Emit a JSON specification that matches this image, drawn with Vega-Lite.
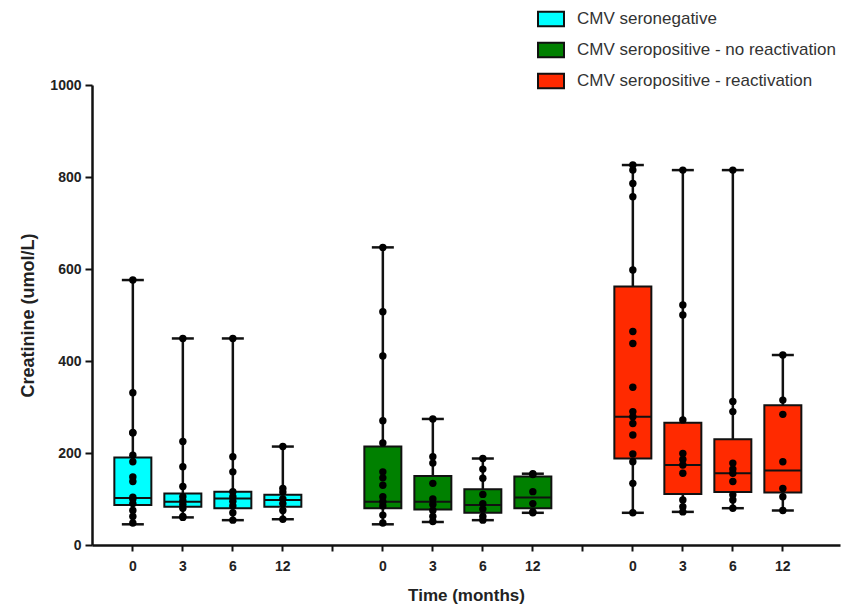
{
  "$schema": "https://vega.github.io/schema/vega-lite/v6.json",
  "width": 748,
  "height": 460,
  "autosize": {"type": "none"},
  "padding": {"left": 92, "top": 85, "right": 8, "bottom": 64},
  "config": {"view": {"stroke": null}, "font": "Liberation Sans"},
  "datasets": {
    "boxes": [
      {"group": "CMV seronegative", "time": "0", "min": 45, "q1": 87, "median": 102, "q3": 190, "max": 576},
      {"group": "CMV seronegative", "time": "3", "min": 60, "q1": 83, "median": 94, "q3": 112, "max": 449},
      {"group": "CMV seronegative", "time": "6", "min": 54, "q1": 80, "median": 101, "q3": 116, "max": 449},
      {"group": "CMV seronegative", "time": "12", "min": 56, "q1": 83, "median": 98, "q3": 109, "max": 214},
      {"group": "CMV seropositive - no reactivation", "time": "0", "min": 45, "q1": 80, "median": 94, "q3": 214, "max": 647},
      {"group": "CMV seropositive - no reactivation", "time": "3", "min": 50, "q1": 77, "median": 94, "q3": 150, "max": 274},
      {"group": "CMV seropositive - no reactivation", "time": "6", "min": 54, "q1": 70, "median": 87, "q3": 121, "max": 188},
      {"group": "CMV seropositive - no reactivation", "time": "12", "min": 70, "q1": 80, "median": 103, "q3": 149, "max": 155},
      {"group": "CMV seropositive - reactivation", "time": "0", "min": 70, "q1": 188, "median": 279, "q3": 562, "max": 826},
      {"group": "CMV seropositive - reactivation", "time": "3", "min": 72, "q1": 111, "median": 174, "q3": 266, "max": 815},
      {"group": "CMV seropositive - reactivation", "time": "6", "min": 80, "q1": 115, "median": 156, "q3": 230, "max": 815},
      {"group": "CMV seropositive - reactivation", "time": "12", "min": 75, "q1": 114, "median": 162, "q3": 304, "max": 413}
    ],
    "points": [
      {"group": "CMV seronegative", "time": "0", "value": 576},
      {"group": "CMV seronegative", "time": "0", "value": 331},
      {"group": "CMV seronegative", "time": "0", "value": 244},
      {"group": "CMV seronegative", "time": "0", "value": 244},
      {"group": "CMV seronegative", "time": "0", "value": 195},
      {"group": "CMV seronegative", "time": "0", "value": 181},
      {"group": "CMV seronegative", "time": "0", "value": 148},
      {"group": "CMV seronegative", "time": "0", "value": 138},
      {"group": "CMV seronegative", "time": "0", "value": 104},
      {"group": "CMV seronegative", "time": "0", "value": 100},
      {"group": "CMV seronegative", "time": "0", "value": 90},
      {"group": "CMV seronegative", "time": "0", "value": 75},
      {"group": "CMV seronegative", "time": "0", "value": 62},
      {"group": "CMV seronegative", "time": "0", "value": 48},
      {"group": "CMV seronegative", "time": "3", "value": 449},
      {"group": "CMV seronegative", "time": "3", "value": 225},
      {"group": "CMV seronegative", "time": "3", "value": 170},
      {"group": "CMV seronegative", "time": "3", "value": 127},
      {"group": "CMV seronegative", "time": "3", "value": 105},
      {"group": "CMV seronegative", "time": "3", "value": 96},
      {"group": "CMV seronegative", "time": "3", "value": 88},
      {"group": "CMV seronegative", "time": "3", "value": 80},
      {"group": "CMV seronegative", "time": "3", "value": 62},
      {"group": "CMV seronegative", "time": "3", "value": 60},
      {"group": "CMV seronegative", "time": "6", "value": 449},
      {"group": "CMV seronegative", "time": "6", "value": 192},
      {"group": "CMV seronegative", "time": "6", "value": 159},
      {"group": "CMV seronegative", "time": "6", "value": 116},
      {"group": "CMV seronegative", "time": "6", "value": 105},
      {"group": "CMV seronegative", "time": "6", "value": 95},
      {"group": "CMV seronegative", "time": "6", "value": 85},
      {"group": "CMV seronegative", "time": "6", "value": 70},
      {"group": "CMV seronegative", "time": "6", "value": 54},
      {"group": "CMV seronegative", "time": "12", "value": 214},
      {"group": "CMV seronegative", "time": "12", "value": 123},
      {"group": "CMV seronegative", "time": "12", "value": 115},
      {"group": "CMV seronegative", "time": "12", "value": 100},
      {"group": "CMV seronegative", "time": "12", "value": 90},
      {"group": "CMV seronegative", "time": "12", "value": 75},
      {"group": "CMV seronegative", "time": "12", "value": 56},
      {"group": "CMV seropositive - no reactivation", "time": "0", "value": 647},
      {"group": "CMV seropositive - no reactivation", "time": "0", "value": 507},
      {"group": "CMV seropositive - no reactivation", "time": "0", "value": 411},
      {"group": "CMV seropositive - no reactivation", "time": "0", "value": 270},
      {"group": "CMV seropositive - no reactivation", "time": "0", "value": 222},
      {"group": "CMV seropositive - no reactivation", "time": "0", "value": 159},
      {"group": "CMV seropositive - no reactivation", "time": "0", "value": 146},
      {"group": "CMV seropositive - no reactivation", "time": "0", "value": 130},
      {"group": "CMV seropositive - no reactivation", "time": "0", "value": 105},
      {"group": "CMV seropositive - no reactivation", "time": "0", "value": 94},
      {"group": "CMV seropositive - no reactivation", "time": "0", "value": 85},
      {"group": "CMV seropositive - no reactivation", "time": "0", "value": 65},
      {"group": "CMV seropositive - no reactivation", "time": "0", "value": 48},
      {"group": "CMV seropositive - no reactivation", "time": "3", "value": 274},
      {"group": "CMV seropositive - no reactivation", "time": "3", "value": 192},
      {"group": "CMV seropositive - no reactivation", "time": "3", "value": 178},
      {"group": "CMV seropositive - no reactivation", "time": "3", "value": 134},
      {"group": "CMV seropositive - no reactivation", "time": "3", "value": 100},
      {"group": "CMV seropositive - no reactivation", "time": "3", "value": 88},
      {"group": "CMV seropositive - no reactivation", "time": "3", "value": 75},
      {"group": "CMV seropositive - no reactivation", "time": "3", "value": 62},
      {"group": "CMV seropositive - no reactivation", "time": "3", "value": 51},
      {"group": "CMV seropositive - no reactivation", "time": "6", "value": 188},
      {"group": "CMV seropositive - no reactivation", "time": "6", "value": 165},
      {"group": "CMV seropositive - no reactivation", "time": "6", "value": 145},
      {"group": "CMV seropositive - no reactivation", "time": "6", "value": 110},
      {"group": "CMV seropositive - no reactivation", "time": "6", "value": 90},
      {"group": "CMV seropositive - no reactivation", "time": "6", "value": 78},
      {"group": "CMV seropositive - no reactivation", "time": "6", "value": 62},
      {"group": "CMV seropositive - no reactivation", "time": "6", "value": 54},
      {"group": "CMV seropositive - no reactivation", "time": "12", "value": 155},
      {"group": "CMV seropositive - no reactivation", "time": "12", "value": 153},
      {"group": "CMV seropositive - no reactivation", "time": "12", "value": 116},
      {"group": "CMV seropositive - no reactivation", "time": "12", "value": 90},
      {"group": "CMV seropositive - no reactivation", "time": "12", "value": 72},
      {"group": "CMV seropositive - no reactivation", "time": "12", "value": 70},
      {"group": "CMV seropositive - reactivation", "time": "0", "value": 826},
      {"group": "CMV seropositive - reactivation", "time": "0", "value": 815},
      {"group": "CMV seropositive - reactivation", "time": "0", "value": 786},
      {"group": "CMV seropositive - reactivation", "time": "0", "value": 757},
      {"group": "CMV seropositive - reactivation", "time": "0", "value": 598},
      {"group": "CMV seropositive - reactivation", "time": "0", "value": 464},
      {"group": "CMV seropositive - reactivation", "time": "0", "value": 438},
      {"group": "CMV seropositive - reactivation", "time": "0", "value": 343},
      {"group": "CMV seropositive - reactivation", "time": "0", "value": 290},
      {"group": "CMV seropositive - reactivation", "time": "0", "value": 279},
      {"group": "CMV seropositive - reactivation", "time": "0", "value": 264},
      {"group": "CMV seropositive - reactivation", "time": "0", "value": 239},
      {"group": "CMV seropositive - reactivation", "time": "0", "value": 198},
      {"group": "CMV seropositive - reactivation", "time": "0", "value": 181},
      {"group": "CMV seropositive - reactivation", "time": "0", "value": 134},
      {"group": "CMV seropositive - reactivation", "time": "0", "value": 70},
      {"group": "CMV seropositive - reactivation", "time": "3", "value": 815},
      {"group": "CMV seropositive - reactivation", "time": "3", "value": 522},
      {"group": "CMV seropositive - reactivation", "time": "3", "value": 500},
      {"group": "CMV seropositive - reactivation", "time": "3", "value": 272},
      {"group": "CMV seropositive - reactivation", "time": "3", "value": 199},
      {"group": "CMV seropositive - reactivation", "time": "3", "value": 186},
      {"group": "CMV seropositive - reactivation", "time": "3", "value": 174},
      {"group": "CMV seropositive - reactivation", "time": "3", "value": 156},
      {"group": "CMV seropositive - reactivation", "time": "3", "value": 98},
      {"group": "CMV seropositive - reactivation", "time": "3", "value": 83},
      {"group": "CMV seropositive - reactivation", "time": "3", "value": 72},
      {"group": "CMV seropositive - reactivation", "time": "6", "value": 815},
      {"group": "CMV seropositive - reactivation", "time": "6", "value": 312},
      {"group": "CMV seropositive - reactivation", "time": "6", "value": 290},
      {"group": "CMV seropositive - reactivation", "time": "6", "value": 178},
      {"group": "CMV seropositive - reactivation", "time": "6", "value": 165},
      {"group": "CMV seropositive - reactivation", "time": "6", "value": 156},
      {"group": "CMV seropositive - reactivation", "time": "6", "value": 138},
      {"group": "CMV seropositive - reactivation", "time": "6", "value": 109},
      {"group": "CMV seropositive - reactivation", "time": "6", "value": 98},
      {"group": "CMV seropositive - reactivation", "time": "6", "value": 80},
      {"group": "CMV seropositive - reactivation", "time": "12", "value": 413},
      {"group": "CMV seropositive - reactivation", "time": "12", "value": 315},
      {"group": "CMV seropositive - reactivation", "time": "12", "value": 284},
      {"group": "CMV seropositive - reactivation", "time": "12", "value": 181},
      {"group": "CMV seropositive - reactivation", "time": "12", "value": 123},
      {"group": "CMV seropositive - reactivation", "time": "12", "value": 105},
      {"group": "CMV seropositive - reactivation", "time": "12", "value": 75}
    ]
  },
  "encoding": {
    "x": {
      "field": "key",
      "type": "nominal",
      "sort": null,
      "scale": {
        "domain": [
          "CMV seronegative|0", "CMV seronegative|3", "CMV seronegative|6", "CMV seronegative|12", "gap1",
          "CMV seropositive - no reactivation|0", "CMV seropositive - no reactivation|3", "CMV seropositive - no reactivation|6", "CMV seropositive - no reactivation|12", "gap2",
          "CMV seropositive - reactivation|0", "CMV seropositive - reactivation|3", "CMV seropositive - reactivation|6", "CMV seropositive - reactivation|12"
        ],
        "paddingInner": 0,
        "paddingOuter": 0.48,
        "align": 0.33
      },
      "axis": {
        "title": "Time (months)",
        "labelExpr": "indexof(datum.value, '|') >= 0 ? split(datum.value, '|')[1] : ''",
        "labelAngle": 0,
        "labelFontSize": 14,
        "labelFontWeight": "bold",
        "labelColor": "#222",
        "labelPadding": 8,
        "domainColor": "#111",
        "domainWidth": 2.5,
        "tickColor": "#111",
        "tickWidth": 2,
        "tickSize": 6,
        "titleFontSize": 17,
        "titleFontWeight": "bold",
        "titleColor": "#222",
        "titlePadding": 14
      }
    }
  },
  "layer": [
    {
      "data": {"name": "boxes"},
      "transform": [{"calculate": "datum.group + '|' + datum.time", "as": "key"}],
      "mark": {"type": "rule", "color": "#111", "strokeWidth": 2.5},
      "encoding": {
        "y": {
          "field": "min",
          "type": "quantitative",
          "scale": {"domain": [0, 1000], "nice": false},
          "axis": {
            "title": "Creatinine (umol/L)",
            "values": [0, 200, 400, 600, 800, 1000],
            "format": "d",
            "grid": false,
            "labelFontSize": 14,
            "labelFontWeight": "bold",
            "labelColor": "#222",
            "labelPadding": 4,
            "domainColor": "#111",
            "domainWidth": 2.5,
            "tickColor": "#111",
            "tickWidth": 2,
            "tickSize": 7,
            "titleFontSize": 18,
            "titleFontWeight": "bold",
            "titleColor": "#222",
            "titlePadding": 12
          }
        },
        "y2": {"field": "max"}
      }
    },
    {
      "data": {"name": "boxes"},
      "transform": [{"calculate": "datum.group + '|' + datum.time", "as": "key"}],
      "mark": {"type": "tick", "color": "#111", "thickness": 2.5, "size": 22, "opacity": 1},
      "encoding": {"y": {"field": "min", "type": "quantitative"}}
    },
    {
      "data": {"name": "boxes"},
      "transform": [{"calculate": "datum.group + '|' + datum.time", "as": "key"}],
      "mark": {"type": "tick", "color": "#111", "thickness": 2.5, "size": 22, "opacity": 1},
      "encoding": {"y": {"field": "max", "type": "quantitative"}}
    },
    {
      "data": {"name": "boxes"},
      "transform": [{"calculate": "datum.group + '|' + datum.time", "as": "key"}],
      "mark": {"type": "bar", "size": 37, "stroke": "#111", "strokeWidth": 2, "opacity": 1},
      "encoding": {
        "y": {"field": "q1", "type": "quantitative"},
        "y2": {"field": "q3"},
        "color": {
          "field": "group",
          "type": "nominal",
          "scale": {
            "domain": ["CMV seronegative", "CMV seropositive - no reactivation", "CMV seropositive - reactivation"],
            "range": ["#00FFFF", "#008000", "#FF2A00"]
          },
          "legend": {
            "title": null,
            "orient": "none",
            "legendX": 445,
            "legendY": -80,
            "direction": "vertical",
            "padding": 0,
            "symbolType": "M-1,-0.55H1V0.55H-1Z",
            "symbolSize": 676,
            "symbolStrokeColor": "#111",
            "symbolStrokeWidth": 2,
            "symbolOpacity": 1,
            "labelFontSize": 17,
            "labelColor": "#333",
            "labelOffset": 12,
            "rowPadding": 5,
            "labelLimit": 400
          }
        }
      }
    },
    {
      "data": {"name": "boxes"},
      "transform": [{"calculate": "datum.group + '|' + datum.time", "as": "key"}],
      "mark": {"type": "tick", "color": "#111", "thickness": 2, "size": 37, "opacity": 1},
      "encoding": {"y": {"field": "median", "type": "quantitative"}}
    },
    {
      "data": {"name": "points"},
      "transform": [{"calculate": "datum.group + '|' + datum.time", "as": "key"}],
      "mark": {"type": "circle", "color": "#000", "size": 55, "opacity": 1},
      "encoding": {"y": {"field": "value", "type": "quantitative"}}
    }
  ]
}
